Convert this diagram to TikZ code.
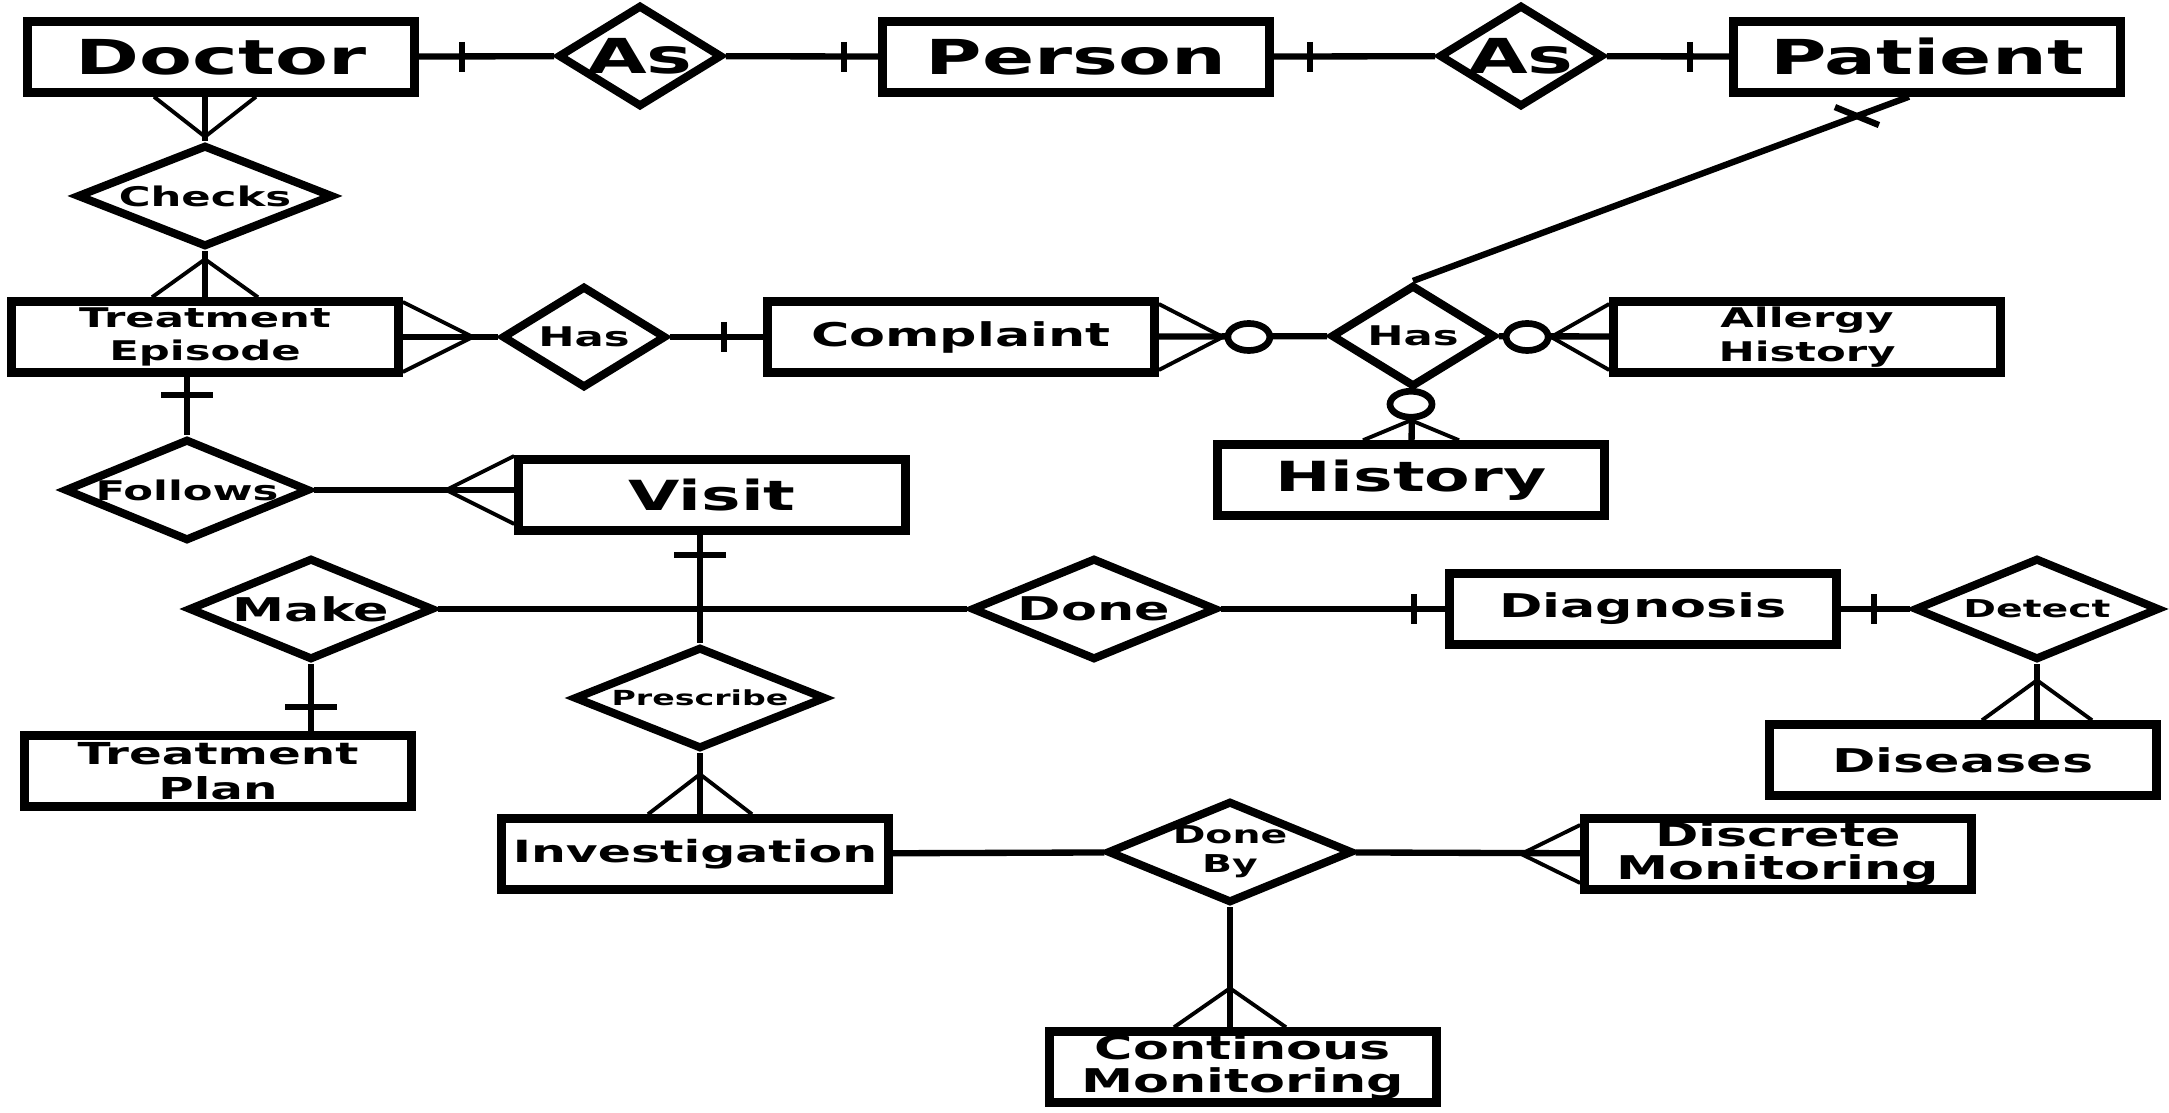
\documentclass[tikz,border=0pt]{standalone}
\usepackage{fontspec}
\setmainfont{DejaVu Sans}[FakeStretch=1.6]
\usepackage{tikz}
\usetikzlibrary{shapes.geometric,positioning,calc}

\begin{document}
\begin{tikzpicture}[
  x=0.01cm, y=-0.01cm,
  ent/.style={rectangle, draw=black, line width=2.4pt, minimum width=3.87cm, minimum height=0.71cm, inner sep=0pt, align=center},
  rel/.style={diamond, draw=black, line width=2.3pt, minimum width=2.45cm, minimum height=1.02cm, inner xsep=-0.5cm, inner ysep=-0.1cm, aspect=2.5, align=center},
  relsm/.style={rel, minimum width=1.64cm, minimum height=1.02cm},
  fbig/.style={font=\bfseries\fontsize{13.7}{16.4}\selectfont},
  fvis/.style={font=\bfseries\fontsize{11.8}{14.2}\selectfont},
  fmid/.style={font=\bfseries\fontsize{9.3}{9.4}\selectfont},
  fsml/.style={font=\bfseries\fontsize{7.7}{9.6}\selectfont},
  fxs/.style={font=\bfseries\fontsize{7}{8.2}\selectfont},
  ftiny/.style={font=\bfseries\fontsize{5.9}{7}\selectfont},
  conn/.style={line width=1.8pt},
  tickmark/.style={line width=1.8pt},
  prong/.style={line width=1.1pt},
  ring/.style={draw=black, fill=white, line width=1.9pt}
]
\useasboundingbox (0,0) rectangle (2169,1113);
% entities
\node[ent, fbig] (doctor) at (221,57) {Doctor};
\node[ent, fbig] (person) at (1076,57) {Person};
\node[ent, fbig] (patient) at (1927,57) {Patient};
\node[ent, fsml] (episode) at (205,337) {Treatment\\Episode};
\node[ent, fmid] (complaint) at (961,337) {Complaint};
\node[ent, fsml] (allergy) at (1807,337) {Allergy\\History};
\node[ent, fvis] (history) at (1411,480) {History};
\node[ent, fvis] (visit) at (712,495) {Visit};
\node[ent, fmid] (diagnosis) at (1643,609) {Diagnosis};
\node[ent, font=\bfseries\fontsize{8.6}{9.9}\selectfont] (plan) at (218,771) {Treatment\\Plan};
\node[ent, fmid] (diseases) at (1963,760) {Diseases};
\node[ent, font=\bfseries\fontsize{8.7}{10.4}\selectfont] (investigation) at (695,854) {Investigation};
\node[ent, fmid] (discrete) at (1778,854) {Discrete\\Monitoring};
\node[ent, fmid] (continuous) at (1243,1067) {Continous\\Monitoring};
% relationships
\node[relsm, fbig] (as1) at (640,56) {As};
\node[relsm, fbig] (as2) at (1521,56) {As};
\node[rel, fsml, minimum width=2.56cm] (checks) at (205,196) {Checks};
\node[relsm, fsml] (has1) at (584,337) {Has};
\node[relsm, fsml] (has2) at (1413,336) {Has};
\node[rel, fsml] (follows) at (187,490) {Follows};
\node[rel, fmid] (make) at (311,609) {Make};
\node[rel, fmid] (done) at (1094,609) {Done};
\node[rel, ftiny, minimum width=2.52cm] (prescribe) at (700,698) {Prescribe};
\node[rel, fxs] (doneby) at (1230,852) {Done\\By};
\node[rel, fxs] (detect) at (2037,609) {Detect};
% top row
\draw[conn] (doctor) -- (as1);
\draw[conn] (as1) -- (person);
\draw[conn] (person) -- (as2);
\draw[conn] (as2) -- (patient);
\draw[tickmark] ($(doctor.east)+(43,-15)$) -- ++(0,30);
\draw[tickmark] ($(person.west)+(-34,-15)$) -- ++(0,30);
\draw[tickmark] ($(person.east)+(36,-15)$) -- ++(0,30);
\draw[tickmark] ($(patient.west)+(-39,-15)$) -- ++(0,30);
% doctor - checks - episode
\draw[conn] (doctor.south -| checks) -- (checks.north);
\draw[prong] ($(doctor.south -| checks)+(-51,0)$) -- ($(doctor.south -| checks)+(0,40)$) -- ($(doctor.south -| checks)+(51,0)$);
\draw[conn] (checks.south) -- (episode.north -| checks);
\draw[prong] ($(episode.north -| checks)+(-53,0)$) -- ($(episode.north -| checks)+(0,-38)$) -- ($(episode.north -| checks)+(53,0)$);
% episode - complaint
\draw[conn] (episode) -- (has1);
\draw[prong] ($(episode.east)+(0,-35)$) -- ($(episode.east)+(70,0)$) -- ($(episode.east)+(0,35)$);
\draw[conn] (has1) -- (complaint);
\draw[tickmark] ($(complaint.west)+(-39,-15)$) -- ++(0,30);
% complaint - has - allergy / history / patient
\draw[conn] (complaint) -- (has2);
\draw[prong] ($(complaint.east)+(0,-33)$) -- ($(complaint.east)+(64,0)$) -- ($(complaint.east)+(0,33)$);
\draw[ring] ($(complaint.east)+(90,0)$) ellipse [x radius=0.21cm, y radius=0.135cm];
\draw[conn] (has2) -- (allergy);
\draw[prong] ($(allergy.west)+(0,-33)$) -- ($(allergy.west)+(-58,0)$) -- ($(allergy.west)+(0,33)$);
\draw[ring] ($(allergy.west)+(-82,0)$) ellipse [x radius=0.21cm, y radius=0.135cm];
\draw[conn] (has2) -- (history);
\draw[prong] ($(history.north)+(-48,0)$) -- ($(history.north)+(0,-20)$) -- ($(history.north)+(48,0)$);
\draw[ring] ($(history.north)+(0,-36)$) ellipse [x radius=0.21cm, y radius=0.13cm];
\coordinate (ptfoot) at ($(patient.south)+(-18,0)$);
\draw[conn] (has2.north) -- (ptfoot);
\draw[tickmark] ($(ptfoot)!0.105!(has2.north)+(-22,-9)$) -- ++(44,18);
% episode - follows - visit
\draw[conn] (episode.south -| follows) -- (follows.north);
\draw[tickmark] ($(episode.south -| follows)+(-26,18)$) -- ++(52,0);
\draw[conn] (follows.east) -- (follows.east -| visit.west);
\draw[prong] ($(follows.east -| visit.west)+(0,-34)$) -- ($(follows.east -| visit.west)+(-68,0)$) -- ($(follows.east -| visit.west)+(0,34)$);
% visit - prescribe - investigation
\draw[conn] (visit.south -| prescribe) -- (prescribe.north);
\draw[tickmark] ($(visit.south -| prescribe)+(-26,20)$) -- ++(52,0);
\draw[conn] (prescribe.south) -- (prescribe.south |- investigation.north);
\draw[prong] ($(prescribe.south |- investigation.north)+(-52,0)$) -- ($(prescribe.south |- investigation.north)+(0,-40)$) -- ($(prescribe.south |- investigation.north)+(52,0)$);
% make - done - diagnosis - detect
\draw[conn] (make) -- (done);
\draw[conn] (make.south) -- (make.south |- plan.north);
\draw[tickmark] ($(make.south |- plan.north)+(-26,-24)$) -- ++(52,0);
\draw[conn] (done) -- (diagnosis);
\draw[tickmark] ($(diagnosis.west)+(-31,-15)$) -- ++(0,30);
\draw[conn] (diagnosis) -- (detect);
\draw[tickmark] ($(diagnosis.east)+(33,-15)$) -- ++(0,30);
\draw[conn] (detect.south) -- (detect.south |- diseases.north);
\draw[prong] ($(detect.south |- diseases.north)+(-55,0)$) -- ($(detect.south |- diseases.north)+(0,-40)$) -- ($(detect.south |- diseases.north)+(55,0)$);
% investigation - done by - monitoring
\draw[conn] (investigation) -- (doneby);
\draw[conn] (doneby) -- (discrete);
\draw[prong] ($(discrete.west)+(0,-29)$) -- ($(discrete.west)+(-59,0)$) -- ($(discrete.west)+(0,29)$);
\draw[conn] (doneby.south) -- (doneby.south |- continuous.north);
\draw[prong] ($(doneby.south |- continuous.north)+(-56,0)$) -- ($(doneby.south |- continuous.north)+(0,-39)$) -- ($(doneby.south |- continuous.north)+(56,0)$);
\end{tikzpicture}
\end{document}
